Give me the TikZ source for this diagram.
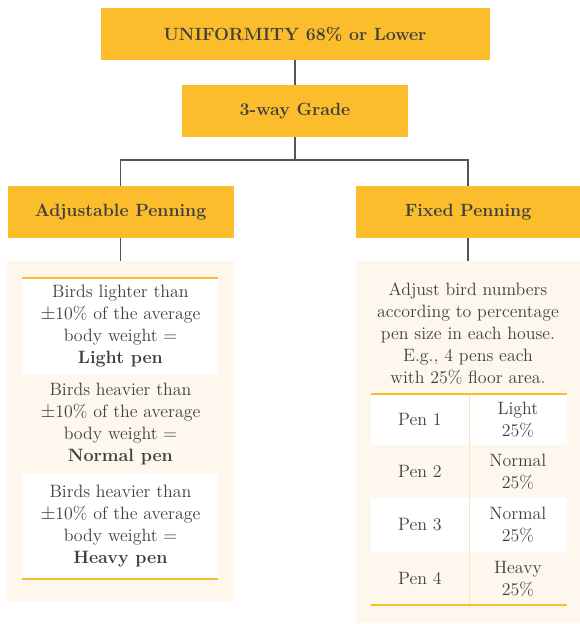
\documentclass[tikz,border=0pt]{standalone}
\usetikzlibrary{positioning}
\definecolor{gold}{HTML}{FBBD2C}
\definecolor{cream}{HTML}{FDF7EE}
\definecolor{ink}{HTML}{3F3F3F}
\definecolor{wire}{HTML}{555555}
\definecolor{divline}{HTML}{F8E6C0}
\tikzset{
  hdr/.style={fill=gold, draw=none, inner sep=0pt, minimum height=39pt, text=ink, font=\fontsize{13.3}{16}\selectfont\bfseries},
  panel/.style={fill=cream, draw=none, inner sep=0pt},
  cell/.style={draw=none, inner sep=0pt, text=ink, align=center, font=\fontsize{13.4}{16.5}\selectfont},
  wirestyle/.style={draw=wire, line width=1.2pt},
  rule/.style={draw=gold, line width=1.5pt},
}
\begin{document}
\begin{tikzpicture}[x=0.75pt,y=-0.75pt]
\useasboundingbox (0,0) rectangle (580,624);
% header boxes
\node[hdr, minimum width=291.75pt] (top) at (295,34) {UNIFORMITY 68\% or Lower};
\node[hdr, minimum width=169.5pt] (grade) at (295,111) {3-way Grade};
\node[hdr, minimum width=169.5pt] (adj) at (120.5,212) {Adjustable Penning};
\node[hdr, minimum width=168pt] (fixed) at (468,212) {Fixed Penning};
% panels
\node[panel, minimum width=170.25pt, minimum height=255pt] (lpanel) at (120.5,431) {};
\node[panel, minimum width=168pt, minimum height=271.5pt] (rpanel) at (468,442) {};
% connectors
\coordinate (bus) at (295,160);
\draw[wirestyle] (top.south) -- (grade.north);
\draw[wirestyle] (grade.south) -- (bus);
\draw[wirestyle] (bus) -| (adj.north);
\draw[wirestyle] (bus) -| (fixed.north);
\draw[wirestyle] (adj.south) -- (lpanel.north);
\draw[wirestyle] (fixed.south) -- (rpanel.north);
% left cells
\node[cell, fill=white, minimum width=146.5pt, minimum height=72.75pt] (l1) at (120.4,326.5)
  {Birds lighter than\\$\pm$10\% of the average\\body weight =\\\textbf{Light pen}};
\node[cell, fill=cream, minimum width=146.5pt, minimum height=74.25pt] (l2) at (120.4,424.5)
  {Birds heavier than\\$\pm$10\% of the average\\body weight =\\\textbf{Normal pen}};
\node[cell, fill=white, minimum width=146.5pt, minimum height=78.75pt] (l3) at (120.4,526.5)
  {Birds heavier than\\$\pm$10\% of the average\\body weight =\\\textbf{Heavy pen}};
\draw[rule] (l1.north west) -- (l1.north east);
\draw[rule] (l3.south west) -- (l3.south east);
% right text
\node[cell] (rtext) at (468,334)
  {Adjust bird numbers\\according to percentage\\pen size in each house.\\E.g., 4 pens each\\with 25\% floor area.};
% right table
\node[cell, fill=white, minimum width=73.7pt, minimum height=38.25pt] (p1) at (419.9,419.5) {Pen 1};
\node[cell, fill=white, minimum width=73.3pt, minimum height=38.25pt] (v1) at (517.9,419.5) {Light\\25\%};
\node[cell, fill=cream, minimum width=73.7pt, minimum height=39.75pt] (p2) at (419.9,471.5) {Pen 2};
\node[cell, fill=cream, minimum width=73.3pt, minimum height=39.75pt] (v2) at (517.9,471.5) {Normal\\25\%};
\node[cell, fill=white, minimum width=73.7pt, minimum height=40.5pt] (p3) at (419.9,525) {Pen 3};
\node[cell, fill=white, minimum width=73.3pt, minimum height=40.5pt] (v3) at (517.9,525) {Normal\\25\%};
\node[cell, fill=cream, minimum width=73.7pt, minimum height=39.75pt] (p4) at (419.9,578.5) {Pen 4};
\node[cell, fill=cream, minimum width=73.3pt, minimum height=39.75pt] (v4) at (517.9,578.5) {Heavy\\25\%};
\draw[draw=divline, line width=0.8pt] (p1.north east) -- (p4.south east);
\draw[rule] (p1.north west) -- (v1.north east);
\draw[rule] (p4.south west) -- (v4.south east);
\end{tikzpicture}
\end{document}
